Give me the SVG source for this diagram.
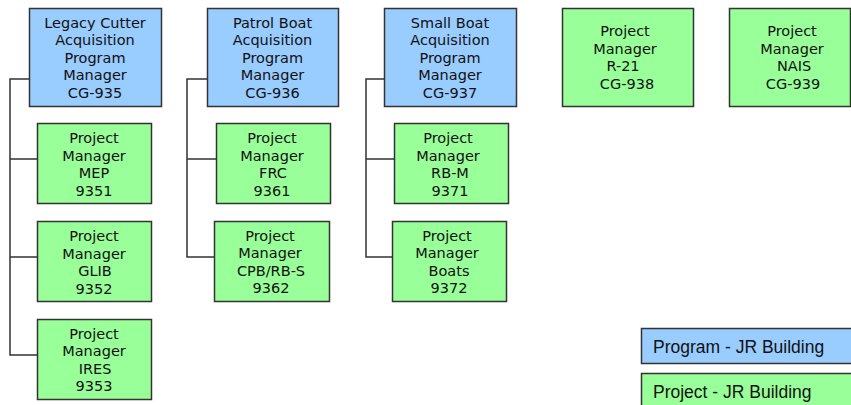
<svg xmlns="http://www.w3.org/2000/svg" width="851" height="405" viewBox="0 0 851 405">
  <style>
    .prog { fill: #99CCFF; stroke: #333333; stroke-width: 1.5; }
    .proj { fill: #99FF99; stroke: #333333; stroke-width: 1.5; }
    .lbl { font-family: "DejaVu Sans", Verdana, sans-serif; font-size: 14.5px; fill: #111111; text-anchor: middle; }
    .leg { font-family: "Liberation Sans", Arial, sans-serif; font-size: 17.5px; fill: #111111; }
    .conn { fill: none; stroke: #333333; stroke-width: 1.5; }
  </style>
  <rect width="851" height="405" fill="#ffffff"/>

  <g id="connectors">
    <path class="conn" d="M29 79 H10 V355 H37 M10 159 H37 M10 257 H37"/>
    <path class="conn" d="M207 79 H187 V257 H214 M187 159 H216"/>
    <path class="conn" d="M384 79 H366 V257 H392 M366 159 H394"/>
  </g>

  <g id="cg935">
    <rect class="prog" x="29.5" y="8.5" width="132" height="98"/>
    <text class="lbl" x="95" y="27.5">Legacy Cutter</text>
    <text class="lbl" x="95" y="45">Acquisition</text>
    <text class="lbl" x="95" y="62.5">Program</text>
    <text class="lbl" x="95" y="80">Manager</text>
    <text class="lbl" x="95" y="97.5">CG-935</text>
  </g>
  <g id="pm9351">
    <rect class="proj" x="37.5" y="123.5" width="114" height="80"/>
    <text class="lbl" x="94" y="143">Project</text>
    <text class="lbl" x="94" y="160.5">Manager</text>
    <text class="lbl" x="94" y="178">MEP</text>
    <text class="lbl" x="94" y="195.5">9351</text>
  </g>
  <g id="pm9352">
    <rect class="proj" x="37.5" y="221.5" width="114" height="80"/>
    <text class="lbl" x="94" y="241">Project</text>
    <text class="lbl" x="94" y="258.5">Manager</text>
    <text class="lbl" x="95" y="276">GLIB</text>
    <text class="lbl" x="94" y="293.5">9352</text>
  </g>
  <g id="pm9353">
    <rect class="proj" x="37.5" y="319.5" width="114" height="80"/>
    <text class="lbl" x="94" y="338.5">Project</text>
    <text class="lbl" x="94" y="356">Manager</text>
    <text class="lbl" x="95" y="373.5">IRES</text>
    <text class="lbl" x="94" y="391">9353</text>
  </g>

  <g id="cg936">
    <rect class="prog" x="207.5" y="8.5" width="131" height="98"/>
    <text class="lbl" x="272.5" y="27.5">Patrol Boat</text>
    <text class="lbl" x="272.5" y="45">Acquisition</text>
    <text class="lbl" x="272.5" y="62.5">Program</text>
    <text class="lbl" x="272.5" y="80">Manager</text>
    <text class="lbl" x="272.5" y="97.5">CG-936</text>
  </g>
  <g id="pm9361">
    <rect class="proj" x="216.5" y="123.5" width="114" height="80"/>
    <text class="lbl" x="272" y="143">Project</text>
    <text class="lbl" x="272" y="160.5">Manager</text>
    <text class="lbl" x="273" y="178">FRC</text>
    <text class="lbl" x="272" y="195.5">9361</text>
  </g>
  <g id="pm9362">
    <rect class="proj" x="214.5" y="221.5" width="115" height="80"/>
    <text class="lbl" x="270" y="240.5">Project</text>
    <text class="lbl" x="270" y="258">Manager</text>
    <text class="lbl" x="271" y="275.5">CPB/RB-S</text>
    <text class="lbl" x="271" y="293">9362</text>
  </g>

  <g id="cg937">
    <rect class="prog" x="384.5" y="8.5" width="132" height="98"/>
    <text class="lbl" x="450" y="27.5">Small Boat</text>
    <text class="lbl" x="450" y="45">Acquisition</text>
    <text class="lbl" x="450" y="62.5">Program</text>
    <text class="lbl" x="450" y="80">Manager</text>
    <text class="lbl" x="450" y="97.5">CG-937</text>
  </g>
  <g id="pm9371">
    <rect class="proj" x="394.5" y="123.5" width="114" height="80"/>
    <text class="lbl" x="448" y="143">Project</text>
    <text class="lbl" x="448" y="160.5">Manager</text>
    <text class="lbl" x="450" y="178">RB-M</text>
    <text class="lbl" x="450" y="195.5">9371</text>
  </g>
  <g id="pm9372">
    <rect class="proj" x="392.5" y="221.5" width="114" height="80"/>
    <text class="lbl" x="447" y="240.5">Project</text>
    <text class="lbl" x="447" y="258">Manager</text>
    <text class="lbl" x="449" y="275.5">Boats</text>
    <text class="lbl" x="449" y="293">9372</text>
  </g>

  <g id="cg938">
    <rect class="proj" x="562.5" y="8.5" width="131" height="98"/>
    <text class="lbl" x="625" y="36">Project</text>
    <text class="lbl" x="625" y="53.5">Manager</text>
    <text class="lbl" x="623" y="71">R-21</text>
    <text class="lbl" x="627" y="88.5">CG-938</text>
  </g>
  <g id="cg939">
    <rect class="proj" x="729.5" y="8.5" width="121" height="98"/>
    <text class="lbl" x="792" y="36">Project</text>
    <text class="lbl" x="792" y="53.5">Manager</text>
    <text class="lbl" x="794" y="71">NAIS</text>
    <text class="lbl" x="793" y="88.5">CG-939</text>
  </g>

  <g id="legend-program">
    <rect class="prog" x="641.5" y="328.5" width="215" height="35"/>
    <text class="leg" x="653" y="353">Program - JR Building</text>
  </g>
  <g id="legend-project">
    <rect class="proj" x="641.5" y="373.5" width="215" height="40"/>
    <text class="leg" x="653" y="397.5">Project - JR Building</text>
  </g>
</svg>
